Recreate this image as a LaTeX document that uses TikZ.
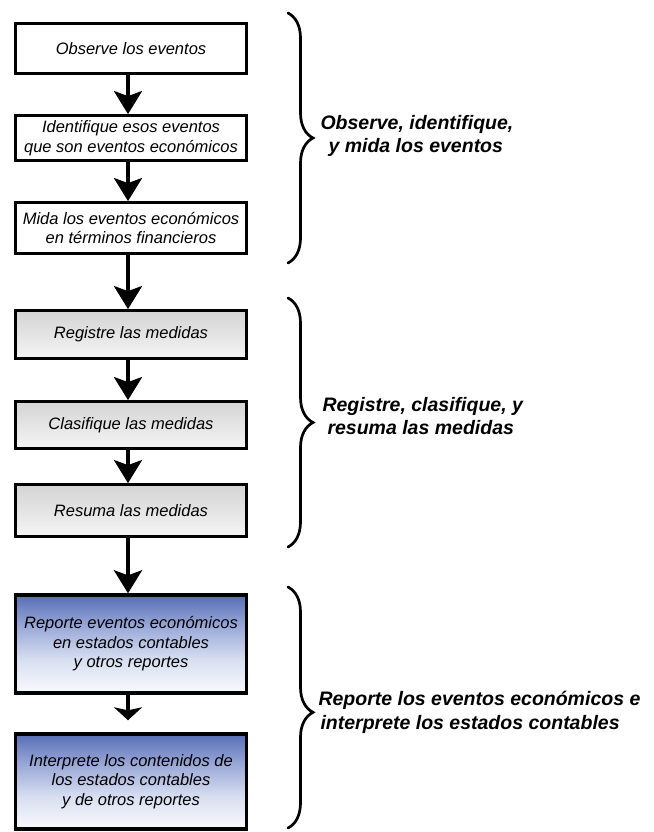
\documentclass[tikz,border=0pt]{standalone}
\usepackage{fontspec}
\setmainfont{Liberation Sans}
\usetikzlibrary{arrows.meta,decorations.pathreplacing}

\definecolor{navyA}{RGB}{18,24,78}
\definecolor{navyB}{RGB}{38,54,132}
\definecolor{navyC}{RGB}{74,98,176}
\definecolor{navyD}{RGB}{150,165,214}
\definecolor{navyE}{RGB}{216,223,241}

% report boxes: dark navy at the top fading to white
\pgfdeclareverticalshading{reportshade}{100bp}{%
  color(0bp)=(white); color(22bp)=(white); color(42bp)=(navyE);
  color(60bp)=(navyD); color(78bp)=(navyC); color(91bp)=(navyB);
  color(100bp)=(navyA)}

\tikzset{
  stepbox/.style={draw=black, line width=2.8pt, rectangle, inner sep=0pt,
    minimum width=231pt, align=center,
    font=\itshape\fontsize{16.5}{19.5}\selectfont},
  plainbox/.style={stepbox, fill=white},
  graybox/.style={stepbox, top color=black!17, bottom color=black!4},
  reportbox/.style={stepbox, line width=3.4pt, shading=reportshade},
  flow/.style={line width=4pt, -{Stealth[length=23pt,width=28pt,inset=5pt]}},
  flowshort/.style={line width=4pt, -{Stealth[length=13pt,width=28pt,inset=3pt]}},
  groupbrace/.style={line width=2.7pt, line cap=round,
    decorate, decoration={brace, amplitude=25pt}},
  grouplabel/.style={anchor=west, align=left,
    font=\bfseries\itshape\fontsize{19.5}{23.5}\selectfont}
}

\begin{document}
\begin{tikzpicture}[x=1pt, y=-1pt]
\useasboundingbox (0,0) rectangle (653,832);

% --- steps ---
\node[plainbox, minimum height=50pt] (b1) at (131,48.5) {Observe los eventos};
\node[plainbox, minimum height=45pt] (b2) at (131,138)
  {Identifique esos eventos\\que son eventos económicos};
\node[plainbox, minimum height=51pt] (b3) at (131,228)
  {Mida los eventos económicos\\en términos financieros};

\node[graybox, minimum height=48pt] (b4) at (131,334.5) {Registre las medidas};
\node[graybox, minimum height=47pt] (b5) at (131,425) {Clasifique las medidas};
\node[graybox, minimum height=52pt] (b6) at (131,510.5) {Resuma las medidas};

\node[reportbox, minimum height=98pt] (b7) at (131,644)
  {Reporte eventos económicos\\en estados contables\\y otros reportes};
\node[reportbox, minimum height=95pt] (b8) at (131,781.5)
  {Interprete los contenidos de\\los estados contables\\y de otros reportes};

% --- flow arrows ---
\foreach \a/\b in {b1/b2, b2/b3, b3/b4, b4/b5, b5/b6, b6/b7}
  \draw[flow] ([xshift=-3pt]\a.south) -- ([xshift=-3pt]\b.north);
\draw[flowshort, shorten >=12pt] ([xshift=-3pt]b7.south) -- ([xshift=-3pt]b8.north);

% --- group braces ---
\coordinate (g1t) at (288,13);  \coordinate (g1b) at (288,263);
\coordinate (g2t) at (288,298); \coordinate (g2b) at (288,547);
\coordinate (g3t) at (288,587); \coordinate (g3b) at (288,828);
\draw[groupbrace] (g1t) -- (g1b);
\draw[groupbrace] (g2t) -- (g2b);
\draw[groupbrace, decoration={brace, amplitude=25pt, aspect=0.52}] (g3t) -- (g3b);

\node[grouplabel] (l1) at (317,136)
  {Observe, identifique,\\\hspace*{8pt}y mida los eventos};
\node[grouplabel] (l2) at (319,416)
  {Registre, clasifique, y\\\hspace*{5pt}resuma las medidas};
\node[grouplabel] (l3) at (315,712.5)
  {Reporte los eventos económicos e\\\hspace*{2pt}interprete los estados contables};
\end{tikzpicture}
\end{document}
